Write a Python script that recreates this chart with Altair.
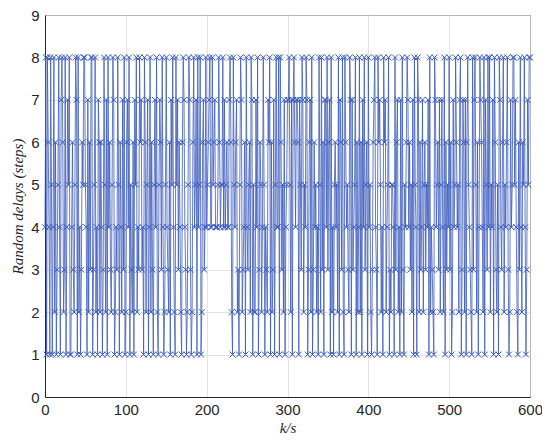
import altair as alt
import pandas as pd

# Random delay (steps) at each sample k (groups of 10 samples)
delay_groups = [
    "4818641851", "4826135841", "7862381475", "8114632587", "1824136588",
    "5417263881", "3582417626", "4138527184", "6325871243", "8516427381",
    "2674815326", "1758243867", "3418625714", "8263157482", "1576384125",
    "8432617584", "2185736421", "6874312587", "3126845718", "4581267348",
    "4567844856", "7444586455", "8474564478", "6218546723", "1587234618",
    "4356287152", "2748136524", "8514327681", "6237158448", "1863527145",
    "7785271786", "4776175387", "2548713672", "8136452418", "5283617748",
    "3671824156", "4528176382", "1864532871", "7345816248", "2617483561",
    "8452136784", "3186752418", "6724581325", "5418367241", "7283154687",
    "4635271854", "1872634725", "6354718243", "2187456372", "5742816354",
    "8361274586", "4527813762", "7168543218", "3785261487", "6428175384",
    "8254718632", "5187436825", "4683127458", "8574216384", "2658413758",
    "8",
]
delays = [int(ch) for g in delay_groups for ch in g]
k_values = list(range(len(delays)))

x_ticks = [0, 100, 200, 300, 400, 500, 600]
y_ticks = [0, 1, 2, 3, 4, 5, 6, 7, 8, 9]

df = pd.DataFrame({"k": k_values, "delay": delays})

blue = "#3b5bbd"

x_scale = alt.Scale(domain=[0, 600], nice=False, zero=False)
y_scale = alt.Scale(domain=[0, 9], nice=False, zero=False)

x_enc = alt.X("k:Q", scale=x_scale, axis=alt.Axis(values=x_ticks, title="k/s", format="d"))
y_enc = alt.Y("delay:Q", scale=y_scale,
              axis=alt.Axis(values=y_ticks, title="Random delays (steps)", format="d"))

line = alt.Chart(df).mark_line(color=blue, strokeWidth=0.8, opacity=1).encode(x=x_enc, y=y_enc)
pts = alt.Chart(df).mark_point(
    shape="M-1,-1L1,1M-1,1L1,-1",
    filled=False,
    color=blue,
    strokeWidth=1,
    size=34,
    opacity=1,
).encode(x=alt.X("k:Q", scale=x_scale), y=alt.Y("delay:Q", scale=y_scale))

chart = (
    alt.layer(line, pts)
    .properties(
        width=485,
        height=382,
        autosize=alt.AutoSizeParams(type="none"),
        padding={"left": 37, "top": 7, "right": 12, "bottom": 40},
        background="white",
    )
    .configure_view(stroke="#262626", strokeWidth=1)
    .configure_axis(
        grid=True,
        gridColor="#dcdcdc",
        gridWidth=0.8,
        domainColor="#262626",
        domainWidth=1,
        tickColor="#262626",
        tickSize=0,
        labelFlush=False,
        labelFont="Liberation Sans",
        labelFontSize=15,
        labelColor="#262626",
        titleFont="Liberation Serif",
        titleFontStyle="italic",
        titleFontWeight="normal",
        titleFontSize=15,
        titleColor="#262626",
    )
    .configure_axisX(labelPadding=5, titlePadding=3)
    .configure_axisY(labelPadding=6, titlePadding=5)
)

chart.save("out.html", embed_options={"renderer": "svg", "actions": False})
